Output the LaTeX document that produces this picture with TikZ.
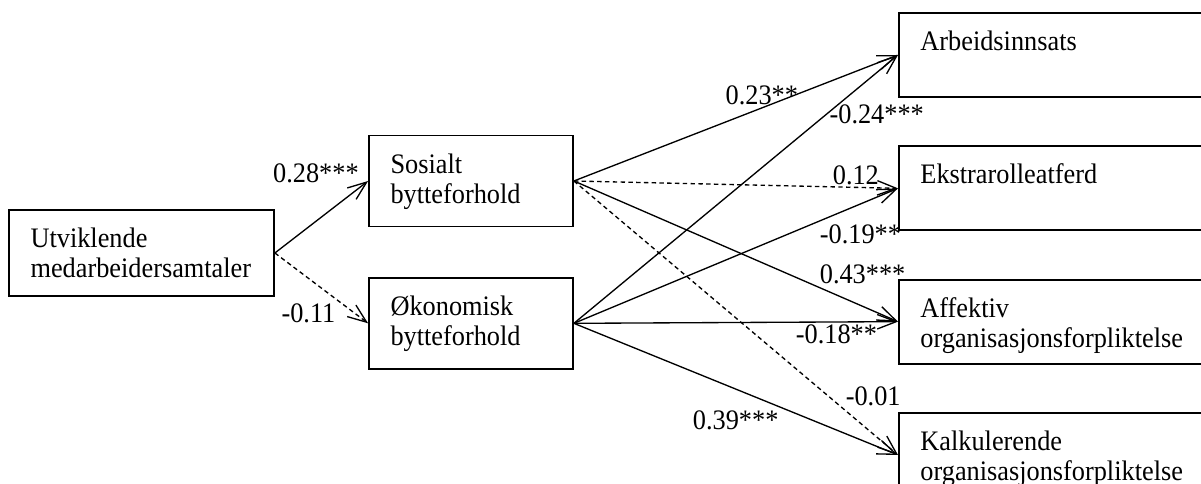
\documentclass[tikz,border=0pt]{standalone}
\usepackage{fontspec}
\setmainfont{Liberation Serif}[FakeStretch=0.932]
\usepackage{tikz}
\usetikzlibrary{arrows.meta, positioning}
\tikzset{%
	var/.style={draw, rectangle, line width=0.8pt, align=left,%
		inner xsep=9.7pt, inner ysep=7.9pt, text height=9pt},
	indep/.style={var, text width=99.85pt, text depth=13.9pt},
	medi/.style={var, text width=72.4pt, text depth=16.15pt},
	dep/.style={var, text width=150pt, text depth=13pt},
	sel/.style={-{Straight Barb[length=8.5pt, width=6.5pt]}, line width=0.6pt},
	ns/.style={sel, dash pattern=on 2pt off 1.5pt},
	lab/.style={inner sep=1pt}
}

\begin{document}
\begin{tikzpicture}[x=0.45pt, y=-0.45pt, font=\fontsize{12.7pt}{13.5pt}\selectfont]
	\useasboundingbox (0,0) rectangle (1201,484);

	\node[indep] (utv) at (141.5,253) {Utviklende\\medarbeidersamtaler};
	\node[medi] (sos) at (471,181) {Sosialt\\bytteforhold};
	\node[medi, below=22.3pt of sos] (oek) {Økonomisk\\bytteforhold};
	\node[dep, anchor=west] (arb) at (898,55) {Arbeidsinnsats};
	\node[dep, below=21.4pt of arb] (ekst) {Ekstrarolleatferd};
	\node[dep, below=21.4pt of ekst] (aff) {Affektiv\\organisasjonsforpliktelse};
	\node[dep, below=21.4pt of aff] (kalk) {Kalkulerende\\organisasjonsforpliktelse};

	\draw[sel] (utv.east) to node[lab, pos=0.93, anchor=south east] {0.28***} (sos.west);
	\draw[ns] (utv.east) to node[lab, pos=0.68, anchor=north east] {-0.11} (oek.west);

	\draw[sel] (sos.east) to node[lab, pos=0.58, anchor=south] {0.23**} (arb.west);
	\draw[ns] (sos.east) to node[lab, pos=0.87, anchor=south] {0.12} (ekst.west);
	\draw[sel] (sos.east) to node[lab, pos=0.75, anchor=south west] {0.43***} (aff.west);
	\draw[ns] (sos.east) to node[lab, pos=0.83, anchor=south west] {-0.01} (kalk.west);

	\draw[sel] (oek.east) to node[lab, pos=0.78, anchor=west] {-0.24***} (arb.west);
	\draw[sel] (oek.east) to node[lab, pos=0.75, anchor=north west] {-0.19**} (ekst.west);
	\draw[sel] (oek.east) to node[lab, pos=0.81, anchor=north] {-0.18**} (aff.west);
	\draw[sel] (oek.east) to node[lab, pos=0.64, anchor=north east] {0.39***} (kalk.west);
\end{tikzpicture}
\end{document}
